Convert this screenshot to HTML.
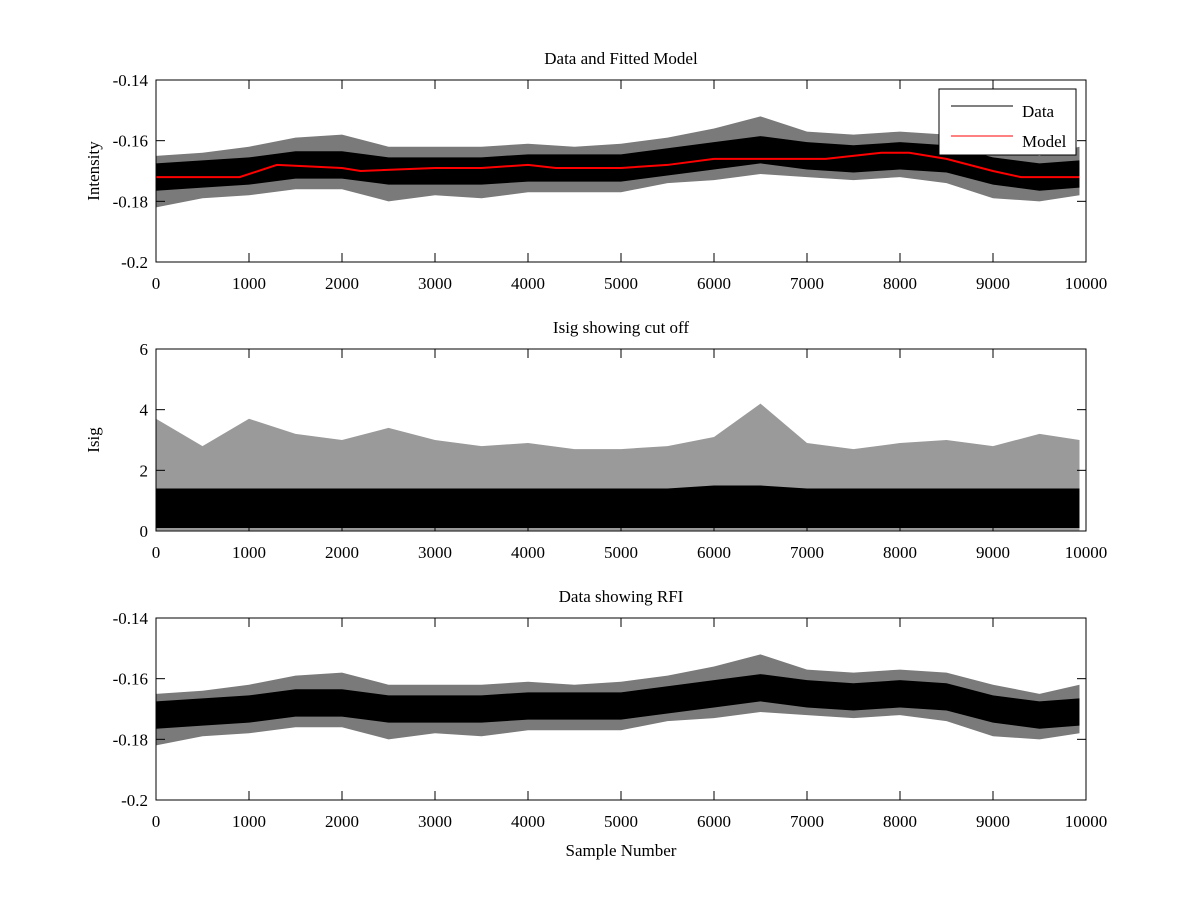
<!DOCTYPE html>
<html><head><meta charset="utf-8"><style>
body{margin:0;background:#fff;}
svg{display:block;font-family:"Liberation Serif",serif;}
</style></head><body>
<svg id="fig" width="1200" height="900" viewBox="0 0 1200 900"></svg>
<script>
const xTicks=[0,1000,2000,3000,4000,5000,6000,7000,8000,9000,10000];
const sampleIdx=[0,500,1000,1500,2000,2500,3000,3500,4000,4500,5000,5500,6000,6500,7000,7500,8000,8500,9000,9500,9930];
const dataMean=[-0.172,-0.171,-0.170,-0.168,-0.168,-0.170,-0.170,-0.170,-0.169,-0.169,-0.169,-0.167,-0.165,-0.163,-0.165,-0.166,-0.165,-0.166,-0.170,-0.172,-0.171];
const dataSpikeUp=[0.007,0.007,0.008,0.009,0.010,0.008,0.008,0.008,0.008,0.007,0.008,0.008,0.009,0.011,0.008,0.008,0.008,0.008,0.008,0.007,0.009];
const dataSpikeDn=[0.010,0.008,0.008,0.008,0.008,0.010,0.008,0.009,0.008,0.008,0.008,0.007,0.008,0.008,0.007,0.007,0.007,0.008,0.009,0.008,0.007];
const modelIdx=[0,900,1300,2000,2200,3000,3500,4000,4300,5000,5500,6000,6500,7000,7200,7800,8100,8500,9000,9300,9930];
const modelVal=[-0.172,-0.172,-0.168,-0.169,-0.170,-0.169,-0.169,-0.168,-0.169,-0.169,-0.168,-0.166,-0.166,-0.166,-0.166,-0.164,-0.164,-0.166,-0.170,-0.172,-0.172];
const isigCore=[1.4,1.4,1.4,1.4,1.4,1.4,1.4,1.4,1.4,1.4,1.4,1.4,1.5,1.5,1.4,1.4,1.4,1.4,1.4,1.4,1.4];
const isigSpike=[3.7,2.8,3.7,3.2,3.0,3.4,3.0,2.8,2.9,2.7,2.7,2.8,3.1,4.2,2.9,2.7,2.9,3.0,2.8,3.2,3.0];
const yTicks1=[-0.2,-0.18,-0.16,-0.14], yTicks2=[0,2,4,6];

const NS="http://www.w3.org/2000/svg", svg=document.getElementById('fig');
function mk(tag,at,par){const e=document.createElementNS(NS,tag);for(const k in at)e.setAttribute(k,at[k]);(par||svg).appendChild(e);return e;}
const X0=156,X1=1086;
const sx=v=>X0+(v/10000)*(X1-X0);
function axes(top,bot,ymin,ymax,yt,ylab,title,name){
  const g=mk('g',{});
  
  
  const sy=v=>bot-(v-ymin)/(ymax-ymin)*(bot-top);
  return {g,sy,draw(){
    mk('rect',{x:X0,y:top,width:X1-X0,height:bot-top,fill:'none',stroke:'#000','stroke-width':1},g);
    xTicks.forEach(t=>{const x=sx(t);
      mk('line',{x1:x,x2:x,y1:bot,y2:bot-9,stroke:'#000'},g);
      mk('line',{x1:x,x2:x,y1:top,y2:top+9,stroke:'#000'},g);
      const tx=mk('text',{x:x,y:bot+27,'text-anchor':'middle','font-size':17},g);tx.textContent=t;
      });
    yt.forEach(t=>{const y=sy(t);
      mk('line',{x1:X0,x2:X0+9,y1:y,y2:y,stroke:'#000'},g);
      mk('line',{x1:X1,x2:X1-9,y1:y,y2:y,stroke:'#000'},g);
      const tx=mk('text',{x:X0-8,y:y+6,'text-anchor':'end','font-size':17},g);tx.textContent=t;
      });
    const ti=mk('text',{x:(X0+X1)/2,y:top-16,'text-anchor':'middle','font-size':17},g);ti.textContent=title;
    
    if(ylab){const yl=mk('text',{x:0,y:0,'text-anchor':'middle','font-size':17,transform:`translate(${X0-57},${(top+bot)/2}) rotate(-90)`},g);yl.textContent=ylab;
      }
  }};
}
function band(a,up,dn,fill,name){
  let pts=sampleIdx.map((s,i)=>sx(s)+','+a.sy(up[i])).join(' ');
  pts+=' '+sampleIdx.slice().reverse().map((s,j)=>{const i=sampleIdx.length-1-j;return sx(s)+','+a.sy(dn[i]);}).join(' ');
  const p=mk('polygon',{points:pts,fill:fill},a.g);
  
}
function noisyPanel(a,label){
  band(a,dataMean.map((m,i)=>m+dataSpikeUp[i]),dataMean.map((m,i)=>m-dataSpikeDn[i]),'#7a7a7a',label+'-spikes');
  band(a,dataMean.map(m=>m+0.0045),dataMean.map(m=>m-0.0045),'#000',label+'-band');
}
const a1=axes(80,262,-0.2,-0.14,yTicks1,'Intensity','Data and Fitted Model','top-panel');
noisyPanel(a1,'data-series');
const ml=mk('polyline',{points:modelIdx.map((s,i)=>sx(s)+','+a1.sy(modelVal[i])).join(' '),fill:'none',stroke:'#f00','stroke-width':2},a1.g);

a1.draw();
const lg=mk('g',{},a1.g);
mk('rect',{x:939,y:89,width:137,height:66,fill:'#fff',stroke:'#000'},lg);
mk('line',{x1:951,x2:1013,y1:106,y2:106,stroke:'#000'},lg);
mk('line',{x1:951,x2:1013,y1:136,y2:136,stroke:'#f00'},lg);
let t=mk('text',{x:1022,y:117,'font-size':17},lg);t.textContent='Data';
t=mk('text',{x:1022,y:147,'font-size':17},lg);t.textContent='Model';

const a2=axes(349,531,0,6,yTicks2,'Isig','Isig showing cut off','middle-panel');
band(a2,isigSpike,sampleIdx.map(()=>0.02),'#9a9a9a','isig-spikes');
band(a2,isigCore,sampleIdx.map(()=>0.1),'#000','isig-band');
a2.draw();

const a3=axes(618,800,-0.2,-0.14,yTicks1,'','Data showing RFI','bottom-panel');
noisyPanel(a3,'rfi-data');
a3.draw();
const xl=mk('text',{x:(X0+X1)/2,y:856,'text-anchor':'middle','font-size':17});xl.textContent='Sample Number';

</script>
</body></html>
